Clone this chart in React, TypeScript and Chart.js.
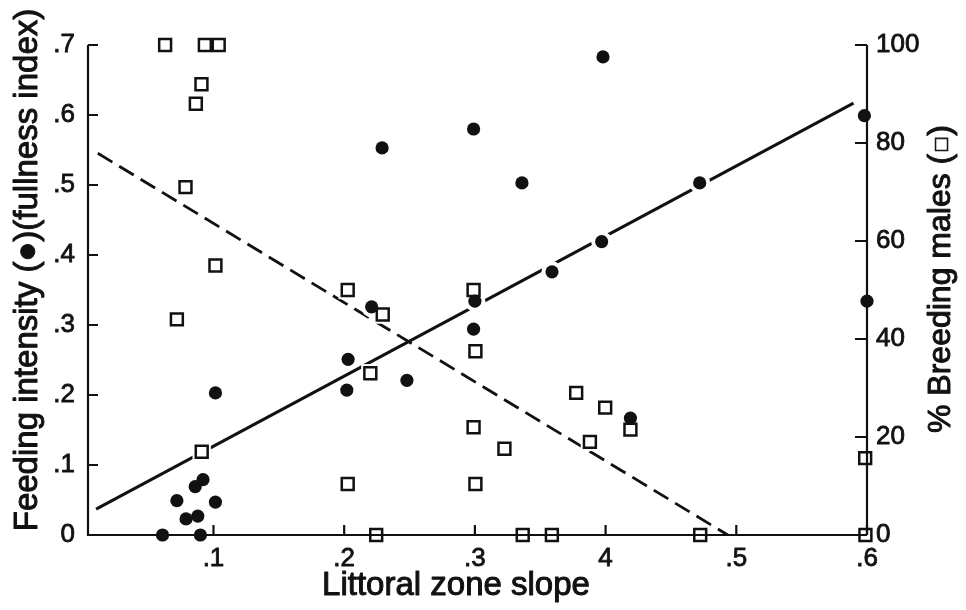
import React, { useEffect, useRef } from "react";
import { Chart, registerables } from "chart.js";
Chart.register(...registerables);

// Feeding intensity (filled circles, left axis)
const feedSlope = [0.061, 0.072, 0.079, 0.086, 0.088, 0.090, 0.092, 0.1015, 0.1015, 0.202, 0.203, 0.221, 0.229, 0.248, 0.299, 0.300, 0.299, 0.336, 0.359, 0.397, 0.398, 0.419, 0.472, 0.598, 0.600];
const feedIndex = [0.0, 0.049, 0.023, 0.069, 0.027, 0.0, 0.079, 0.047, 0.203, 0.207, 0.251, 0.326, 0.553, 0.221, 0.294, 0.334, 0.58, 0.503, 0.376, 0.419, 0.683, 0.167, 0.503, 0.599, 0.334];

// % breeding males (open squares, right axis)
const breedSlope = [0.063, 0.0934, 0.104, 0.0908, 0.0865, 0.0786, 0.072, 0.1015, 0.091, 0.2027, 0.2295, 0.299, 0.220, 0.3004, 0.299, 0.3226, 0.2027, 0.3004, 0.2245, 0.3366, 0.3775, 0.3997, 0.388, 0.419, 0.3589, 0.4724, 0.5986, 0.5988];
const breedPct = [100, 100, 100, 92, 88, 71, 44, 55, 17, 50, 45, 50, 33, 37.5, 22, 17.6, 10.4, 10.4, 0, 0, 29, 26, 19, 21.5, 0, 0, 15.7, 0];

// Fitted lines
const feedFitX = [0.0102, 0.5897];
const feedFitY = [0.037, 0.617];
const breedFitX = [0.0115, 0.4935];
const breedFitY = [77.9, 0];

// Axes
const X_MIN = 0.004;
const X_MAX = 0.6;
const xTicks = [0.1, 0.2, 0.3, 0.4, 0.5, 0.6];
const xTickLabels = [".1", ".2", ".3", "4", ".5", ".6"];
const leftTicks = [0, 0.1, 0.2, 0.3, 0.4, 0.5, 0.6, 0.7];
const leftTickLabels = ["0", ".1", ".2", ".3", ".4", ".5", ".6", ".7"];
const rightTicks = [0, 20, 40, 60, 80, 100];
const rightTickLabels = ["0", "20", "40", "60", "80", "100"];

const xTitle = "Littoral zone slope";
const leftTitle = "Feeding intensity (\u25CF)(fullness index)";
const rightTitleMain = "% Breeding males (";
const rightTitleSymbol = "\u25A1";
const rightTitleEnd = ")";

const FONT = "'Liberation Sans', Arial, sans-serif";
const INK = "#111";

function labelFor(values: number[], labels: string[], v: number) {
  for (let i = 0; i < values.length; i++) if (Math.abs(values[i] - v) < 1e-9) return labels[i];
  return "";
}

function drawAxes(chart: any) {
  const { ctx, chartArea: a, scales } = chart;
  ctx.save();
  ctx.strokeStyle = INK;
  ctx.lineWidth = 2.2;
  ctx.lineCap = "butt";
  ctx.beginPath();
  ctx.moveTo(a.left, a.top);
  ctx.lineTo(a.left, a.bottom);
  ctx.lineTo(a.right, a.bottom);
  ctx.moveTo(a.right, a.bottom);
  ctx.lineTo(a.right, a.top);
  ctx.stroke();
  ctx.beginPath();
  for (const v of leftTicks) {
    const y = scales.y.getPixelForValue(v);
    ctx.moveTo(a.left, y);
    ctx.lineTo(a.left + 10, y);
  }
  for (const v of rightTicks) {
    const y = scales.y1.getPixelForValue(v);
    ctx.moveTo(a.right, y);
    ctx.lineTo(a.right - 12, y);
  }
  for (const v of xTicks) {
    const x = scales.x.getPixelForValue(v);
    ctx.moveTo(x, a.bottom);
    ctx.lineTo(x, a.bottom - 10);
  }
  ctx.stroke();
  ctx.restore();
}

function boldText(ctx: CanvasRenderingContext2D, t: string, x: number, y: number) {
  ctx.strokeText(t, x, y);
  ctx.fillText(t, x, y);
}

const axesPlugin = {
  id: "handAxes",
  afterDatasetDraw(chart: any, args: any) {
    // datasets are painted from last to first; axes go above the white halos
    if (args.index === 2) drawAxes(chart);
  },
  afterDraw(chart: any) {
    const { ctx } = chart;
    ctx.save();
    ctx.fillStyle = INK;
    ctx.strokeStyle = INK;
    ctx.lineWidth = 1;
    ctx.lineJoin = "round";
    ctx.font = `33px ${FONT}`;
    ctx.textAlign = "center";
    ctx.textBaseline = "middle";
    boldText(ctx, xTitle, 456, 586);
    ctx.save();
    ctx.translate(28, 270);
    ctx.rotate(-Math.PI / 2);
    boldText(ctx, leftTitle, 0, 0);
    ctx.restore();
    // right title, reading upward, with a small square symbol
    ctx.save();
    ctx.translate(941, 279);
    ctx.rotate(-Math.PI / 2);
    ctx.textAlign = "left";
    const mainFont = `32px ${FONT}`;
    const symFont = `17px 'DejaVu Sans', ${FONT}`;
    ctx.font = mainFont;
    const w1 = ctx.measureText(rightTitleMain).width;
    const w3 = ctx.measureText(rightTitleEnd).width;
    ctx.font = symFont;
    const w2 = ctx.measureText(rightTitleSymbol).width + 2;
    let x0 = -(w1 + w2 + w3) / 2;
    ctx.font = mainFont;
    boldText(ctx, rightTitleMain, x0, 0);
    x0 += w1;
    ctx.font = symFont;
    ctx.lineWidth = 0.6;
    boldText(ctx, rightTitleSymbol, x0 + 1, 1);
    x0 += w2;
    ctx.font = mainFont;
    ctx.lineWidth = 1;
    boldText(ctx, rightTitleEnd, x0, 0);
    ctx.restore();
    ctx.restore();
  },
};

export default function App() {
  const ref = useRef<HTMLCanvasElement>(null);
  useEffect(() => {
    const feedPts = feedSlope.map((x, i) => ({ x, y: feedIndex[i] }));
    const breedPts = breedSlope.map((x, i) => ({ x, y: breedPct[i] }));
    const tickFont = { family: FONT, size: 26 };
    const tickCommon = {
      autoSkip: false,
      color: INK,
      font: tickFont,
      textStrokeColor: INK,
      textStrokeWidth: 0.8,
    };
    const chart = new Chart(ref.current as HTMLCanvasElement, {
      type: "scatter",
      data: {
        datasets: [
          {
            label: "Feeding intensity",
            data: feedPts,
            yAxisID: "y",
            pointStyle: "circle",
            pointRadius: 6.6,
            backgroundColor: INK,
            borderColor: INK,
            borderWidth: 0,
            clip: false,
          },
          {
            label: "% Breeding males",
            data: breedPts,
            yAxisID: "y1",
            pointStyle: "rect",
            pointRadius: 8.4,
            backgroundColor: "rgba(0,0,0,0)",
            borderColor: INK,
            borderWidth: 2.5,
            clip: false,
          },
          {
            label: "halo1",
            data: feedPts,
            yAxisID: "y",
            pointStyle: "circle",
            pointRadius: 10.5,
            backgroundColor: "#fff",
            borderWidth: 0,
            clip: false,
          },
          {
            label: "halo2",
            data: breedPts,
            yAxisID: "y1",
            pointStyle: "rect",
            pointRadius: 13,
            backgroundColor: "#fff",
            borderWidth: 0,
            clip: false,
          },
          {
            type: "line",
            label: "feed fit",
            data: feedFitX.map((x, i) => ({ x, y: feedFitY[i] })),
            yAxisID: "y",
            borderColor: INK,
            borderWidth: 3,
            pointRadius: 0,
            showLine: true,
            fill: false,
            clip: false,
          },
          {
            type: "line",
            label: "breed fit",
            data: breedFitX.map((x, i) => ({ x, y: breedFitY[i] })),
            yAxisID: "y1",
            borderColor: INK,
            borderWidth: 2.8,
            borderDash: [17, 8],
            pointRadius: 0,
            showLine: true,
            fill: false,
            clip: false,
          },
        ] as any,
      },
      options: {
        responsive: false,
        animation: false,
        devicePixelRatio: 1,
        layout: { padding: { top: 45, left: 0, right: 0, bottom: 0 } },
        plugins: { legend: { display: false }, tooltip: { enabled: false } },
        events: [],
        scales: {
          x: {
            type: "linear",
            position: "bottom",
            min: X_MIN,
            max: X_MAX,
            afterBuildTicks: (s: any) => { s.ticks = xTicks.map((v) => ({ value: v })); },
            afterFit: (s: any) => { s.height = 75; },
            grid: { display: false, drawTicks: false },
            border: { display: false },
            ticks: {
              ...tickCommon,
              maxRotation: 0,
              padding: 8,
              callback: (v: any) => labelFor(xTicks, xTickLabels, Number(v)),
            },
          },
          y: {
            type: "linear",
            position: "left",
            min: 0,
            max: 0.7,
            afterBuildTicks: (s: any) => { s.ticks = leftTicks.map((v) => ({ value: v })); },
            afterFit: (s: any) => { s.width = 88; },
            grid: { display: false, drawTicks: false },
            border: { display: false },
            ticks: {
              ...tickCommon,
              padding: 13,
              callback: (v: any) => labelFor(leftTicks, leftTickLabels, Number(v)),
            },
          },
          y1: {
            type: "linear",
            position: "right",
            min: 0,
            max: 100,
            afterBuildTicks: (s: any) => { s.ticks = rightTicks.map((v) => ({ value: v })); },
            afterFit: (s: any) => { s.width = 99; },
            grid: { display: false, drawTicks: false },
            border: { display: false },
            ticks: {
              ...tickCommon,
              padding: 9,
              callback: (v: any) => labelFor(rightTicks, rightTickLabels, Number(v)),
            },
          },
        },
      } as any,
      plugins: [axesPlugin],
    });
    return () => chart.destroy();
  }, []);
  return (
    <div style={{ position: "absolute", left: 0, top: 0, width: 966, height: 610, background: "#fff" }}>
      <canvas ref={ref} width={966} height={610} style={{ display: "block", width: 966, height: 610 }} />
    </div>
  );
}
